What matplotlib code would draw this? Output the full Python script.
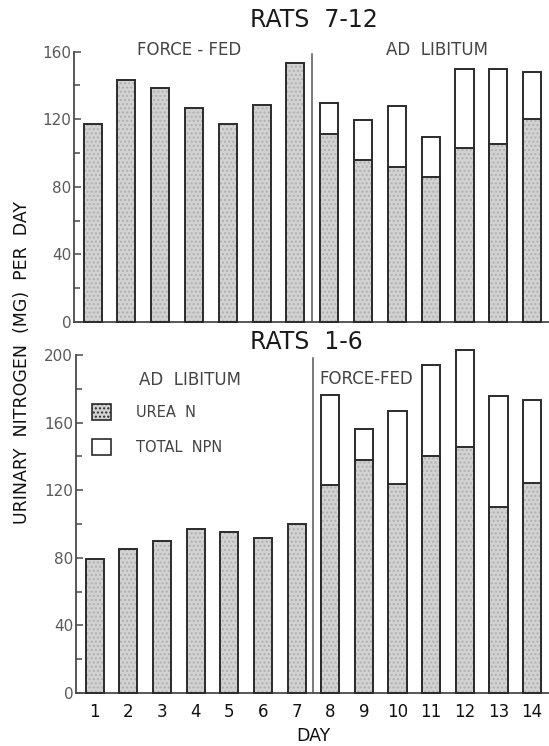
import matplotlib
matplotlib.use("Agg")
import matplotlib.pyplot as plt
import numpy as np
from matplotlib.patches import Patch
from matplotlib.ticker import MultipleLocator

plt.rcParams['font.family'] = ['DejaVu Sans']

days = list(range(1, 15))
day_labels = [str(d) for d in days]

# Rats 7-12 (top panel)
top_urea = [117, 143, 138.3, 126.4, 117, 128.2, 153.3, 111.1, 96.0, 91.7, 86.0, 103.1, 105.1, 119.9]
top_total = [np.nan] * 7 + [129.8, 119.5, 128.0, 109.5, 149.7, 149.9, 148.1]

# Rats 1-6 (bottom panel)
bot_urea = [79.4, 85.1, 89.9, 96.9, 95.4, 92.0, 100.1, 122.8, 137.9, 123.9, 140.5, 145.4, 110.1, 124.1]
bot_total = [np.nan] * 7 + [176.2, 156.3, 166.7, 193.9, 203.0, 175.8, 173.2]

W, H = 549, 746
fig = plt.figure(figsize=(W / 100, H / 100), dpi=100)

def px_axes(left, right, top_px, bottom_px):
    return fig.add_axes([left / W, 1 - bottom_px / H, (right - left) / W, (bottom_px - top_px) / H])

ax_top = px_axes(74, 549, 51.6, 322)
ax_bot = px_axes(76, 549, 355, 693)

gray = '#d2d2d2'
edge = '#2b2b2b'
spine_c = '#4a4a4a'
tick_c = '#5a5a5a'
bw = 0.535

def draw(ax, urea, total, ymax):
    x = np.array(days, dtype=float)
    tot = np.array(total, dtype=float)
    m = ~np.isnan(tot)
    ax.bar(x[m], tot[m], width=bw, color='white', edgecolor=edge, linewidth=1.4, clip_on=False, zorder=2)
    ax.bar(x, urea, width=bw, color=gray, hatch='....', edgecolor='#b0b0b0', linewidth=0, clip_on=False, zorder=3)
    ax.bar(x, urea, width=bw, fill=False, edgecolor=edge, linewidth=1.4, clip_on=False, zorder=4)
    ax.set_xlim(0.45, 14.5)
    ax.set_ylim(0, ymax)
    for s in ['top', 'right']:
        ax.spines[s].set_visible(False)
    for s in ['left', 'bottom']:
        ax.spines[s].set_color(spine_c)
        ax.spines[s].set_linewidth(1.3)
    ax.yaxis.set_major_locator(MultipleLocator(40))
    ax.yaxis.set_minor_locator(MultipleLocator(20))
    ax.tick_params(axis='y', which='major', direction='in', length=5, width=1.1, color=spine_c,
                   labelsize=11, labelcolor=tick_c, pad=2)
    ax.tick_params(axis='y', which='minor', direction='in', length=4, width=1.1, color=spine_c)
    ax.axvline(7.5, ymin=0, ymax=0.99, color='#555555', linewidth=1.1, zorder=1)

draw(ax_top, top_urea, top_total, 160)
ax_top.set_xticks(days)
ax_top.tick_params(axis='x', length=0, labelbottom=False)

draw(ax_bot, bot_urea, bot_total, 200)
ax_bot.set_xticks(days)
ax_bot.set_xticklabels(day_labels)
ax_bot.tick_params(axis='x', length=0, labelsize=12, labelcolor='#111111', pad=7)

def ftext(xp, yp, s, size, **kw):
    fig.text(xp / W, 1 - yp / H, s, fontsize=size, ha='center', va='center', **kw)

ftext(314, 20, 'RATS  7-12', 17, color='#1a1a1a')
ftext(306, 342, 'RATS  1-6', 17, color='#1a1a1a')
ftext(189, 50, 'FORCE - FED', 12, color='#444444')
ftext(437, 50, 'AD  LIBITUM', 12, color='#444444')
ftext(190, 380, 'AD  LIBITUM', 12, color='#444444')
ftext(366, 379, 'FORCE-FED', 12, color='#444444')
ftext(313, 736, 'DAY', 12.5, color='#111111')
ftext(22, 363, 'URINARY  NITROGEN  (MG)  PER  DAY', 12.5, color='#111111', rotation=90)

handles = [Patch(facecolor=gray, edgecolor=edge, hatch='....', linewidth=1.2),
           Patch(facecolor='white', edgecolor=edge, linewidth=1.2)]
leg = fig.legend(handles, ['UREA  N', 'TOTAL  NPN'], loc='upper left',
                 bbox_to_anchor=(92 / W, 1 - 404 / H), bbox_transform=fig.transFigure,
                 frameon=False, fontsize=10.5, handlelength=1.3, handleheight=1.3,
                 labelspacing=1.3, handletextpad=1.7, borderpad=0, borderaxespad=0)
for t in leg.get_texts():
    t.set_color('#444444')

fig.savefig('out.png', dpi=100)
